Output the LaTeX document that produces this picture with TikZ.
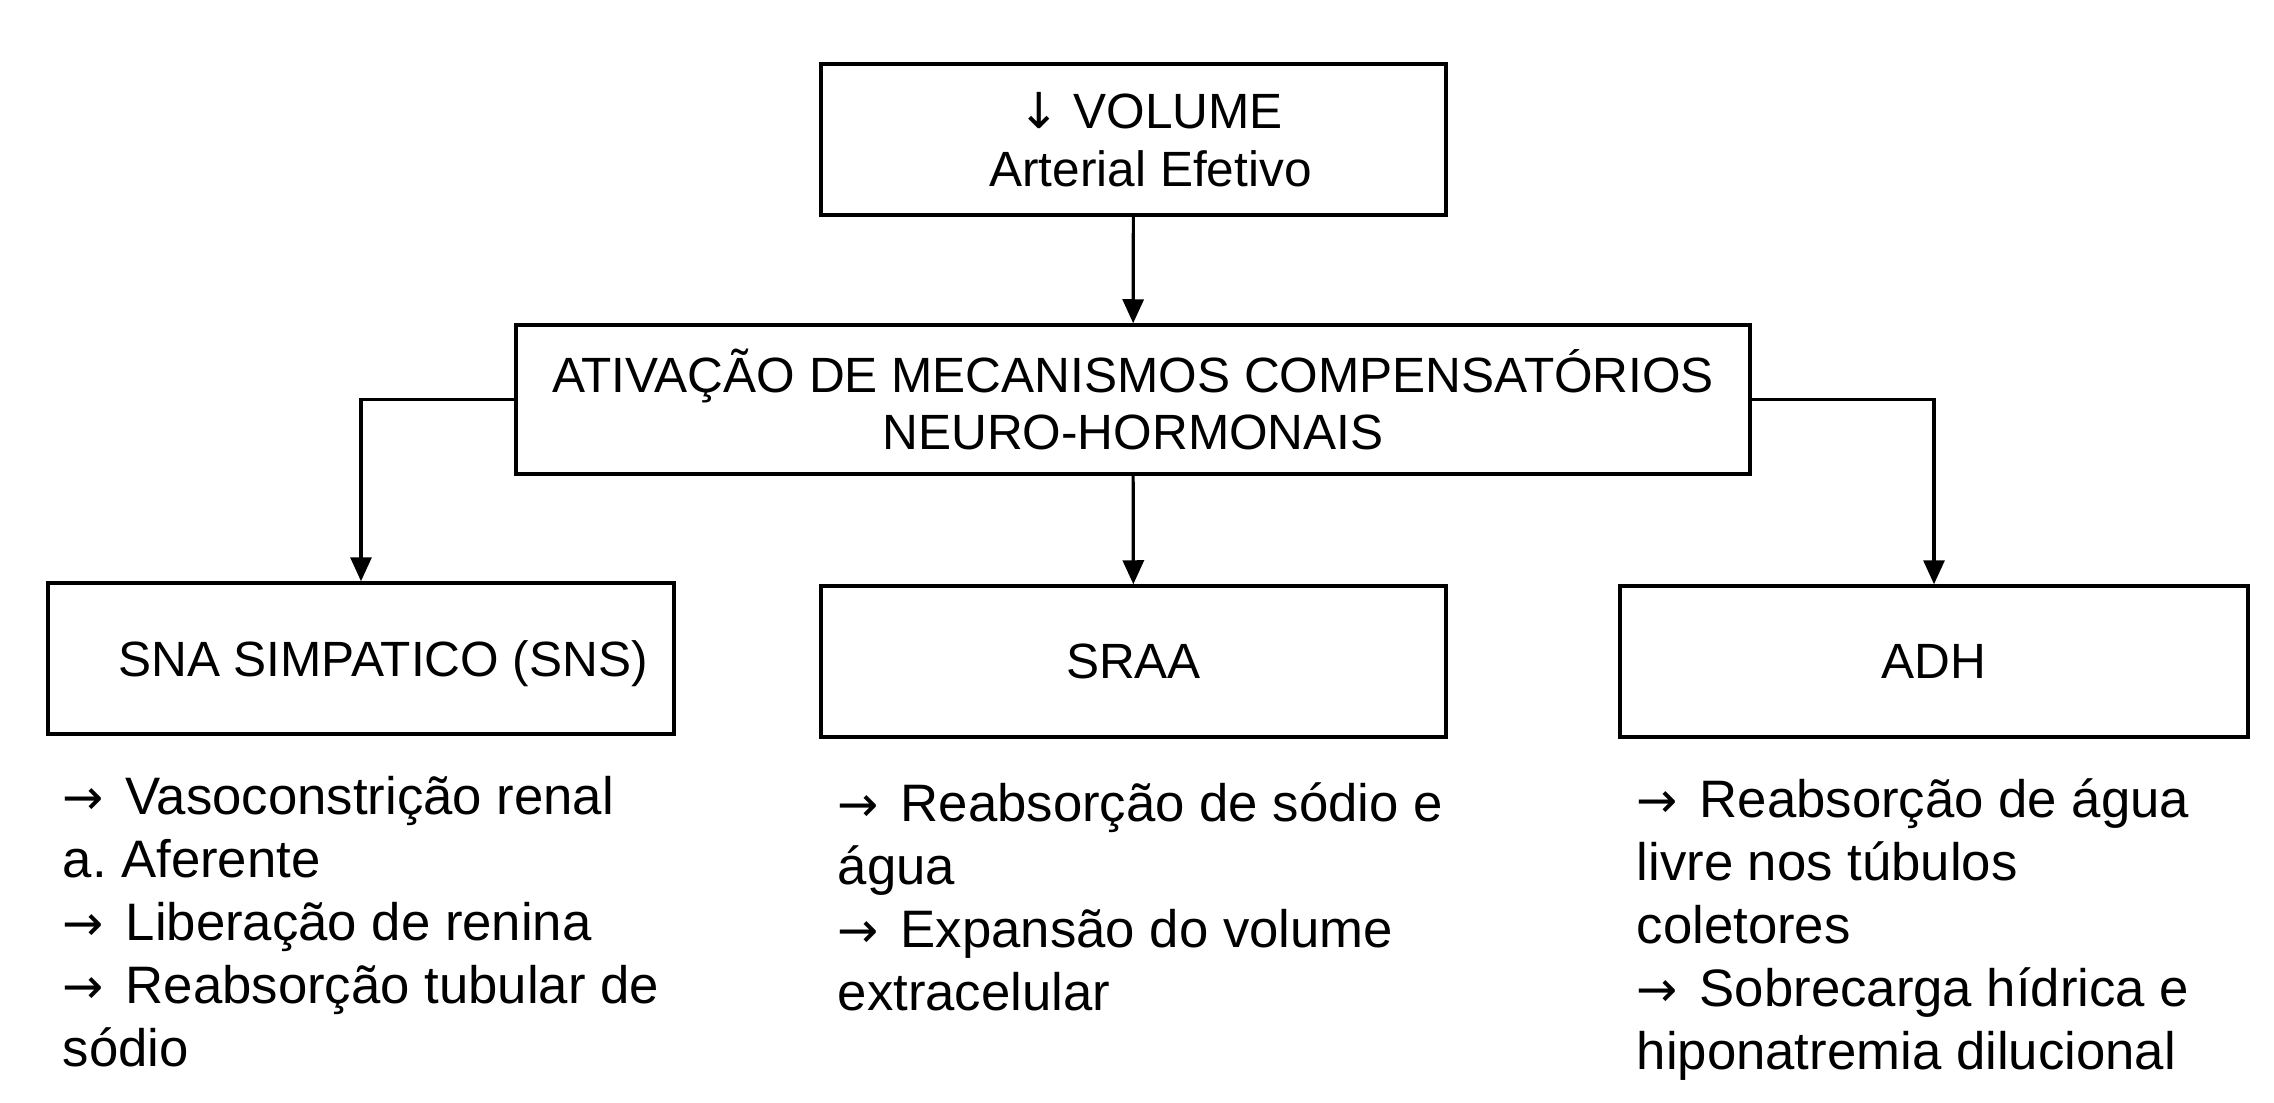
\documentclass[tikz,border=0pt]{standalone}
\usepackage{fontspec}
\setmainfont{Liberation Sans}
\newfontfamily\arrowfont{DejaVu Sans}
\newcommand{\ra}{{\arrowfont\fontsize{14}{14}\selectfont →}\hspace{6.2pt}}
\newcommand{\da}{{\arrowfont ↓}}
\usetikzlibrary{arrows.meta,positioning}
\frenchspacing

\begin{document}
\begin{tikzpicture}[
    box/.style={draw, line width=1pt, align=center, inner sep=0pt,
        minimum width=6.25cm, minimum height=1.51cm,
        font=\fontsize{14.1}{16.5}\selectfont},
    effect/.style={align=left, inner sep=0pt, anchor=north west,
        font=\fontsize{15}{17.9}\selectfont},
    flow/.style={-{Triangle[length=2.4mm, width=2.1mm]}, line width=0.9pt},
]
    \useasboundingbox (0,0) rectangle (22.74,-11.02);
    \node[box] (volume) at (11.335,-1.395)
        {\hspace*{0.34cm}\da\ VOLUME\\\hspace*{0.34cm}Arterial Efetivo};
    \node[box, minimum width=12.34cm, minimum height=1.49cm,
        font=\fontsize{14.1}{16}\selectfont] (mechanisms) at (11.33,-3.995)
        {ATIVAÇÃO DE MECANISMOS COMPENSATÓRIOS\\NEURO-HORMONAIS};
    \node[box, minimum width=6.26cm, text height=10pt, text depth=0pt] (sns)
        at (3.61,-6.585) {\hspace*{0.44cm}SNA SIMPATICO (SNS)};
    \node[box] (sraa) at (11.335,-6.615) {SRAA};
    \node[box, minimum width=6.28cm] (adh) at (19.34,-6.615) {ADH};
    \node[effect] (snsfx) at (0.62,-7.76)
        {\ra Vasoconstrição renal\\a. Aferente\\\ra Liberação de renina\\
         \ra Reabsorção tubular de\\sódio};
    \node[effect] (sraafx) at (8.37,-7.82)
        {\ra Reabsorção de sódio e\\água\\\ra Expansão do volume\\extracelular};
    \node[effect] (adhfx) at (16.36,-7.78)
        {\ra Reabsorção de água\\livre nos túbulos\\coletores\\
         \ra Sobrecarga hídrica e\\hiponatremia dilucional};
    \draw[flow] (volume) -- (mechanisms);
    \draw[flow] (mechanisms.west) -| (sns.north);
    \draw[flow] (mechanisms) -- (sraa);
    \draw[flow] (mechanisms.east) -| (adh.north);
\end{tikzpicture}
\end{document}
